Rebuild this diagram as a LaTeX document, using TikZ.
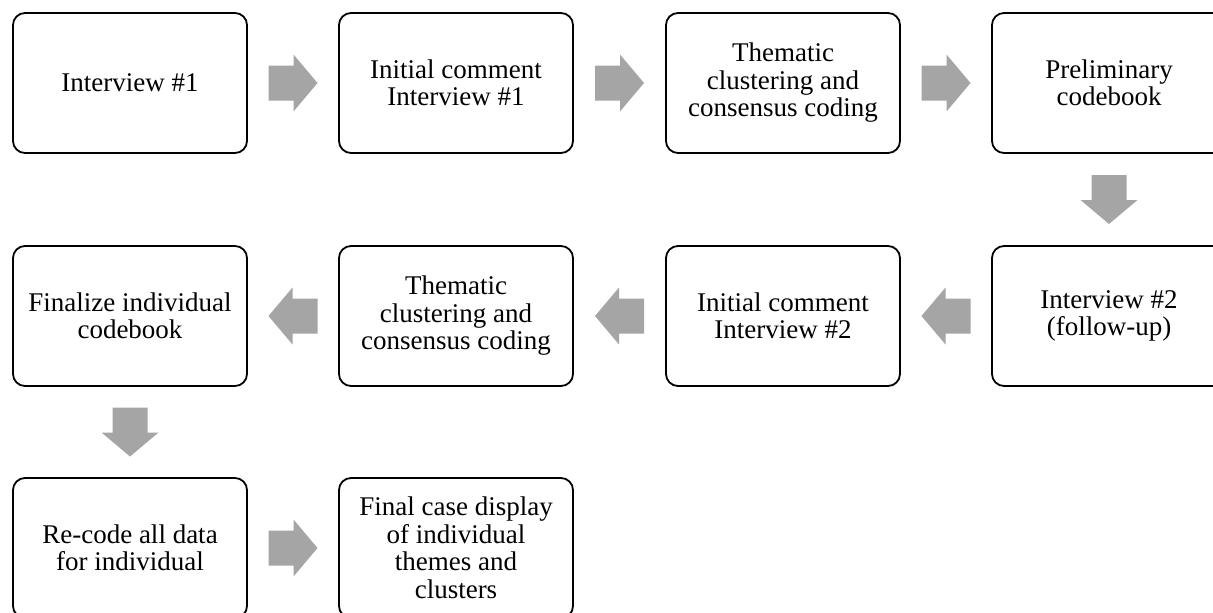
\documentclass[tikz,border=0pt]{standalone}
\usepackage{fontspec}
\setmainfont{Liberation Serif}
\usetikzlibrary{calc}
\definecolor{arrowgray}{HTML}{A5A5A5}
\tikzset{
  stepbox/.style={draw=black, line width=1.8pt, rounded corners=12pt, fill=white,
    minimum width=234pt, minimum height=140pt, inner sep=0pt, align=center,
    font=\fontsize{27}{27.5}\selectfont},
  blockarrow/.pic={\fill[arrowgray] (-24.5,-17.5) -- (0.5,-17.5) -- (0.5,-28.5) -- (24.5,0)
      -- (0.5,28.5) -- (0.5,17.5) -- (-24.5,17.5) -- cycle;}
}
\begin{document}
\begin{tikzpicture}[x=1pt,y=1pt]
\useasboundingbox (0,0) rectangle (1213,-613);
\clip (0,0) rectangle (1213,-613);
% row 1
\node[stepbox] (a1) at (130,-83) {Interview \#1};
\node[stepbox] (a2) at (456,-83) {Initial comment\\Interview \#1};
\node[stepbox] (a3) at (783,-83) {Thematic\\clustering and\\consensus coding};
\node[stepbox] (a4) at (1109,-83) {Preliminary\\codebook};
% row 2
\node[stepbox] (b4) at (1109,-316) {Interview \#2\\(follow-up)};
\node[stepbox] (b3) at (783,-316) {Initial comment\\Interview \#2};
\node[stepbox] (b2) at (456,-316) {Thematic\\clustering and\\consensus coding};
\node[stepbox] (b1) at (130,-316) {Finalize individual\\codebook};
% row 3
\node[stepbox] (c1) at (130,-548) {Re-code all data\\for individual};
\node[stepbox] (c2) at (456,-548) {Final case display\\of individual\\themes and\\clusters};
% connectors
\pic at ($(a1.east)!0.5!(a2.west)$) {blockarrow};
\pic at ($(a2.east)!0.5!(a3.west)$) {blockarrow};
\pic at ($(a3.east)!0.5!(a4.west)$) {blockarrow};
\pic[rotate=-90] at ($(a4.south)!0.5!(b4.north)$) {blockarrow};
\pic[rotate=180] at ($(b4.west)!0.5!(b3.east)$) {blockarrow};
\pic[rotate=180] at ($(b3.west)!0.5!(b2.east)$) {blockarrow};
\pic[rotate=180] at ($(b2.west)!0.5!(b1.east)$) {blockarrow};
\pic[rotate=-90] at ($(b1.south)!0.5!(c1.north)$) {blockarrow};
\pic at ($(c1.east)!0.5!(c2.west)$) {blockarrow};
\end{tikzpicture}
\end{document}
